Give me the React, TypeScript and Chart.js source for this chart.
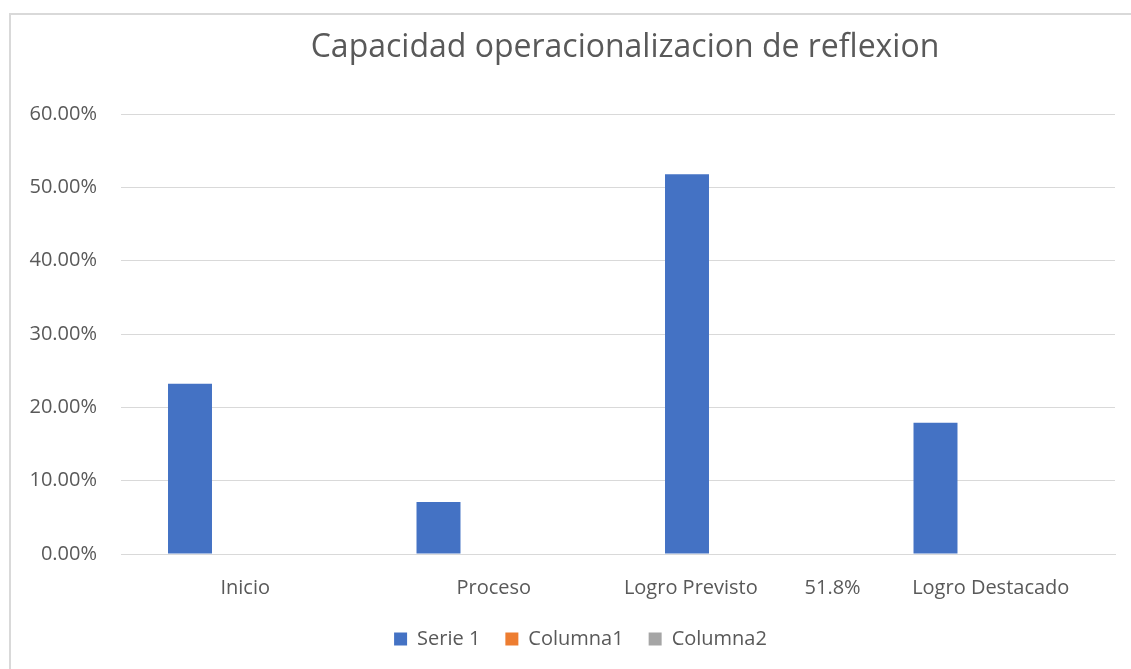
import React, { useEffect, useRef } from "react";
import { Chart, registerables } from "chart.js";

Chart.register(...registerables);

const titleText = "Capacidad operacionalizacion de reflexion";
const categories = ["Inicio", "Proceso", "Logro Previsto         51.8%", "Logro Destacado"];
const serie1 = [23.2, 7.1, 51.8, 17.9];
const columna1 = [null, null, null, null];
const columna2 = [null, null, null, null];
const yTicks = [0, 10, 20, 30, 40, 50, 60];

const TEXT = "#595959";
const FONT = "'Open Sans', 'Noto Sans', sans-serif";

const decorPlugin = {
  id: "decor",
  beforeDraw(chart: any) {
    const ctx = chart.ctx;
    ctx.save();
    ctx.fillStyle = "#ffffff";
    ctx.fillRect(0, 0, chart.width, chart.height);
    ctx.strokeStyle = "#d9d9d9";
    ctx.lineWidth = 2;
    ctx.strokeRect(10, 14, chart.width + 50, chart.height + 50);
    ctx.fillStyle = TEXT;
    ctx.font = "32px " + FONT;
    ctx.textAlign = "center";
    ctx.textBaseline = "alphabetic";
    ctx.fillText(titleText, 625, 57);
    ctx.restore();
  },
  afterLayout(chart: any) {
    if (chart.legend) {
      chart.legend.left += 23;
      chart.legend.right += 23;
    }
  },
};

export default function App() {
  const ref = useRef<HTMLCanvasElement>(null);
  useEffect(() => {
    if (!ref.current) return;
    const chart = new Chart(ref.current, {
      type: "bar",
      data: {
        labels: categories,
        datasets: [
          { label: "Serie 1", data: serie1, backgroundColor: "#4472C4", categoryPercentage: 0.667, barPercentage: 0.796 },
          { label: "Columna1", data: columna1 as any, backgroundColor: "#ED7D31", categoryPercentage: 0.667, barPercentage: 0.796 },
          { label: "Columna2", data: columna2 as any, backgroundColor: "#A5A5A5", categoryPercentage: 0.667, barPercentage: 0.796 },
        ],
      },
      options: {
        responsive: false,
        animation: false,
        layout: { padding: { left: 0, right: 16, top: 114, bottom: 10 } },
        plugins: {
          tooltip: { enabled: false },
          title: { display: false },
          legend: {
            position: "bottom",
            labels: {
              color: TEXT,
              font: { family: FONT, size: 20 },
              boxWidth: 13,
              boxHeight: 13,
              padding: 25,
            },
          },
        },
        scales: {
          x: {
            afterFit(scale: any) {
              scale.height -= 18;
            },
            grid: { display: false, drawTicks: false },
            border: { display: true, color: "#d9d9d9", width: 1 },
            ticks: { color: TEXT, font: { family: FONT, size: 20 }, padding: 22, maxRotation: 0, autoSkip: false },
          },
          y: {
            min: 0,
            max: 60,
            afterFit(scale: any) {
              scale.width = 121;
            },
            afterBuildTicks(scale: any) {
              scale.ticks = yTicks.map((v) => ({ value: v }));
            },
            grid: { color: "#d9d9d9", lineWidth: 1, drawTicks: false },
            border: { display: false },
            ticks: {
              color: TEXT,
              font: { family: FONT, size: 20 },
              padding: 24,
              callback: (v: any) => Number(v).toFixed(2) + "%",
            },
          },
        },
      },
      plugins: [decorPlugin],
    });
    return () => chart.destroy();
  }, []);
  return (
    <div style={{ position: "absolute", left: 0, top: 0, width: 1131, height: 669 }}>
      <canvas ref={ref} width={1131} height={669} />
    </div>
  );
}
